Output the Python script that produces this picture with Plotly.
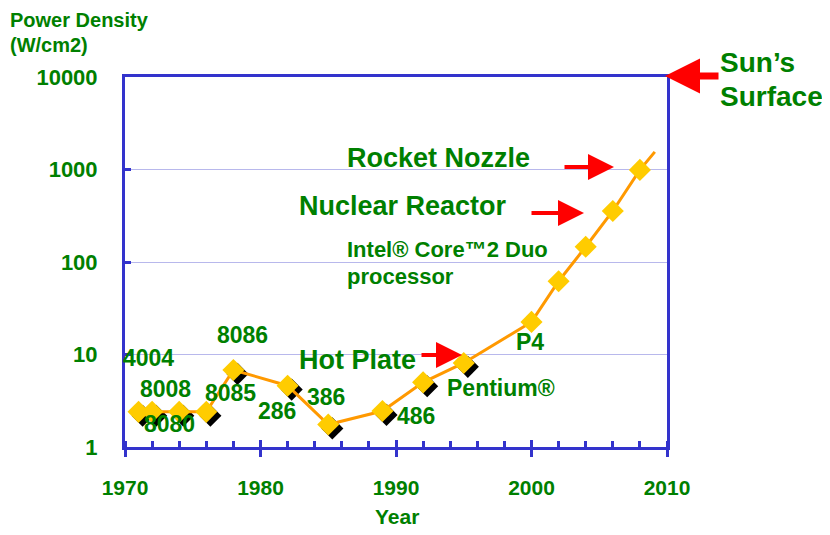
import plotly.graph_objects as go

# Power density of Intel processors (W/cm2)
years = [1971, 1972, 1974, 1976, 1978, 1982, 1985, 1989, 1992, 1995, 2000, 2002, 2004, 2006, 2008]
power = [2.4, 2.4, 2.4, 2.4, 6.8, 4.6, 1.75, 2.45, 5.0, 8.1, 22.5, 62, 146, 356, 990]
# orange trend line runs a little past the last diamond
trend_years = years + [2009.1]
trend_power = power + [1550]
# only the older chips get the drop shadow
shadow_count = 10

chip_names = ['4004', '8008', '8080', '8085', '8086', '286', '386', '486', 'Pentium®', 'P4']
chip_label_px = [(148, 358), (165, 389), (169, 424), (230, 393), (242, 335),
                 (277, 411), (326, 397), (416, 416), (501, 388), (530, 342)]

y_ticks = [1, 10, 100, 1000, 10000]
y_tick_text = ['1', '10', '100', '1000', '10000']
x_ticks = [1970, 1980, 1990, 2000, 2010]

GREEN = '#008000'
BLUE = '#3333CC'
FONT = 'Liberation Sans'

# page has an 8px body margin, so the figure is drawn a bit smaller
OFF = 8
W, H = 830 - 2 * OFF, 535 - 2 * OFF
L, R, T, B = 125, 667, 77, 447   # plot area in page pixels


def px(x, y):
    # page pixel position -> paper coords
    return (x - L) / (R - L), (B - y) / (B - T)


fig = go.Figure()

# shadow diamonds, nudged down-right
fig.add_trace(go.Scatter(
    x=[v + 0.3 for v in years[:shadow_count]],
    y=[v * 10 ** -0.042 for v in power[:shadow_count]],
    mode='markers',
    marker=dict(symbol='diamond', size=17, color='black'),
    hoverinfo='skip', showlegend=False,
))
fig.add_trace(go.Scatter(
    x=trend_years, y=trend_power, mode='lines',
    line=dict(color='#FF9900', width=3),
    hoverinfo='skip', showlegend=False,
))
fig.add_trace(go.Scatter(
    x=years, y=power, mode='markers',
    marker=dict(symbol='diamond', size=17, color='#FFCC00'),
    showlegend=False,
))

annotations = []


def text_at(x, y, text, size, anchor='left'):
    xp, yp = px(x, y)
    annotations.append(dict(
        x=xp, y=yp, xref='paper', yref='paper', text=text, showarrow=False,
        xanchor=anchor, yanchor='middle', align='left',
        font=dict(family=FONT, size=size, color=GREEN, weight='bold'),
    ))


def arrow(tip, tail, width, size):
    xp, yp = px(*tip)
    annotations.append(dict(
        x=xp, y=yp, xref='paper', yref='paper', text='', showarrow=True,
        ax=tail[0] - tip[0], ay=tail[1] - tip[1], axref='pixel', ayref='pixel',
        arrowhead=2, arrowsize=size, arrowwidth=width, arrowcolor='#FF0000',
    ))


for name, (lx, ly) in zip(chip_names, chip_label_px):
    text_at(lx, ly, name, 23, anchor='center')

text_at(8, 20, 'Power Density', 20)
text_at(8, 45, '(W/cm2)', 20)
text_at(718, 63, 'Sun’s', 28)
text_at(718, 96, 'Surface', 28)
text_at(345, 158, 'Rocket Nozzle', 27)
text_at(297, 206, 'Nuclear Reactor', 27)
text_at(345, 249, 'Intel® Core™2 Duo', 22)
text_at(345, 276, 'processor', 22)
text_at(297, 360, 'Hot Plate', 27)
text_at(397, 516, 'Year', 21, anchor='center')

arrow((665, 76), (720, 76), 7, 1.0)
arrow((614, 167), (563, 167), 4, 1.3)
arrow((584, 213), (530, 213), 4, 1.3)
arrow((462, 355), (420, 355), 4, 1.3)

fig.update_layout(
    width=W, height=H,
    margin=dict(l=L - OFF, r=W - (R - OFF), t=T - OFF, b=H - (B - OFF)),
    plot_bgcolor='white', paper_bgcolor='white',
    showlegend=False,
    annotations=annotations,
    xaxis=dict(
        range=[1970, 2010], tickvals=x_ticks,
        ticks='outside', ticklen=7, tickwidth=3, tickcolor=BLUE,
        minor=dict(dtick=2, ticks='inside', ticklen=6, tickwidth=3, tickcolor=BLUE),
        showline=True, linecolor=BLUE, linewidth=3, mirror=True,
        showgrid=False, zeroline=False,
        tickfont=dict(family=FONT, size=21, color=GREEN, weight='bold'),
        ticklabelstandoff=13,
    ),
    xaxis2=dict(
        range=[1970, 2010], overlaying='x', anchor='y', side='bottom',
        tickvals=x_ticks, ticks='inside', ticklen=7, tickwidth=3, tickcolor=BLUE,
        showticklabels=False, showgrid=False, zeroline=False,
    ),
    yaxis=dict(
        type='log', range=[0, 4], tickvals=y_ticks, ticktext=y_tick_text,
        ticks='inside', ticklen=6, tickwidth=3, tickcolor=BLUE,
        showline=True, linecolor=BLUE, linewidth=3, mirror=True,
        showgrid=True, gridcolor='#B8B8EC', gridwidth=1, zeroline=False,
        tickfont=dict(family=FONT, size=22, color=GREEN, weight='bold'),
        ticklabelstandoff=20,
    ),
)
# empty trace so the overlay axis gets drawn
fig.add_trace(go.Scatter(x=[], y=[], xaxis='x2', showlegend=False))

fig.write_html('out.html')
